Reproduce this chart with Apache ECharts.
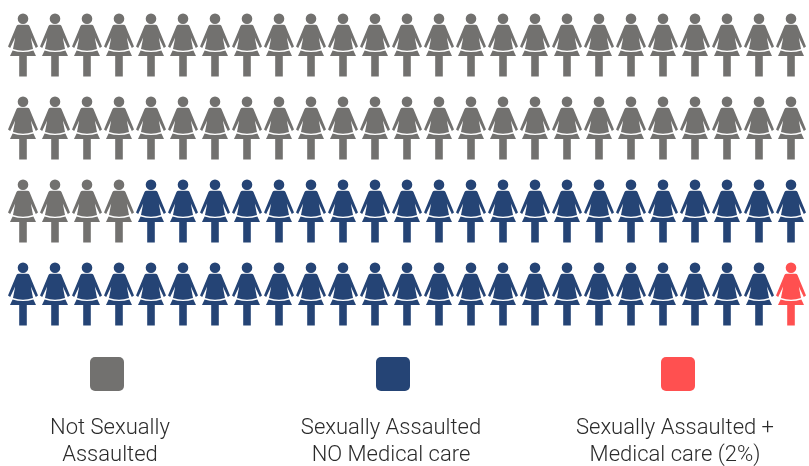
<!DOCTYPE html>
<html><head><meta charset="utf-8">
<style>html,body{margin:0;padding:0;background:#fff}#c{width:809px;height:466px}</style>
<script src="https://cdn.jsdelivr.net/npm/echarts@6/dist/echarts.min.js"></script>
</head><body><div id="c"></div>
<script>
const categories = ['Not Sexually\nAssaulted', 'Sexually Assaulted\nNO Medical care', 'Sexually Assaulted +\nMedical care (2%)'];
const counts = [54, 45, 1];
const colors = ['#72716f', '#254475', '#ff5050'];
const perRow = 25;
const legendSquareX = [107, 393, 678];
const legendTextX = [110, 391, 675];

const woman = 'path://M97 53A53 53 0 1 1 203 53A53 53 0 1 1 97 53Z' +
  'M105 112L195 112Q208 112 215 126L300 330L278 346L228 240L250 356Q150 388 50 356L72 240L22 346L0 330L85 126Q92 112 105 112Z' +
  'M46 370Q150 402 254 370L280 425L188 425L188 630L112 630L112 425L20 425Z';

let idx = 0;
const series = counts.map((n, s) => {
  const data = [];
  for (let k = 0; k < n; k++, idx++) data.push([idx % perRow, Math.floor(idx / perRow)]);
  return {
    type: 'scatter', name: categories[s], data,
    symbol: woman, symbolSize: [30, 63],
    itemStyle: { color: colors[s], opacity: 1 },
    silent: true, animation: false
  };
});

const graphic = [];
categories.forEach((c, i) => {
  graphic.push({ type: 'rect', shape: { x: legendSquareX[i] - 17, y: 357, width: 34, height: 34, r: 5 }, style: { fill: colors[i] } });
  graphic.push({ type: 'text', x: legendTextX[i], y: 415, style: { text: c, fill: '#2b2b2b', font: '300 22px Roboto, "Liberation Sans", sans-serif', lineHeight: 27, align: 'center', verticalAlign: 'top' } });
});

const chart = echarts.init(document.getElementById('c'), null, { renderer: 'canvas' });
chart.setOption({
  animation: false,
  backgroundColor: '#fff',
  grid: { left: 23, top: 45, width: 768, height: 249 },
  xAxis: { type: 'value', min: 0, max: 24, show: false },
  yAxis: { type: 'value', min: 0, max: 3, inverse: true, show: false },
  series, graphic
});
</script></body></html>
